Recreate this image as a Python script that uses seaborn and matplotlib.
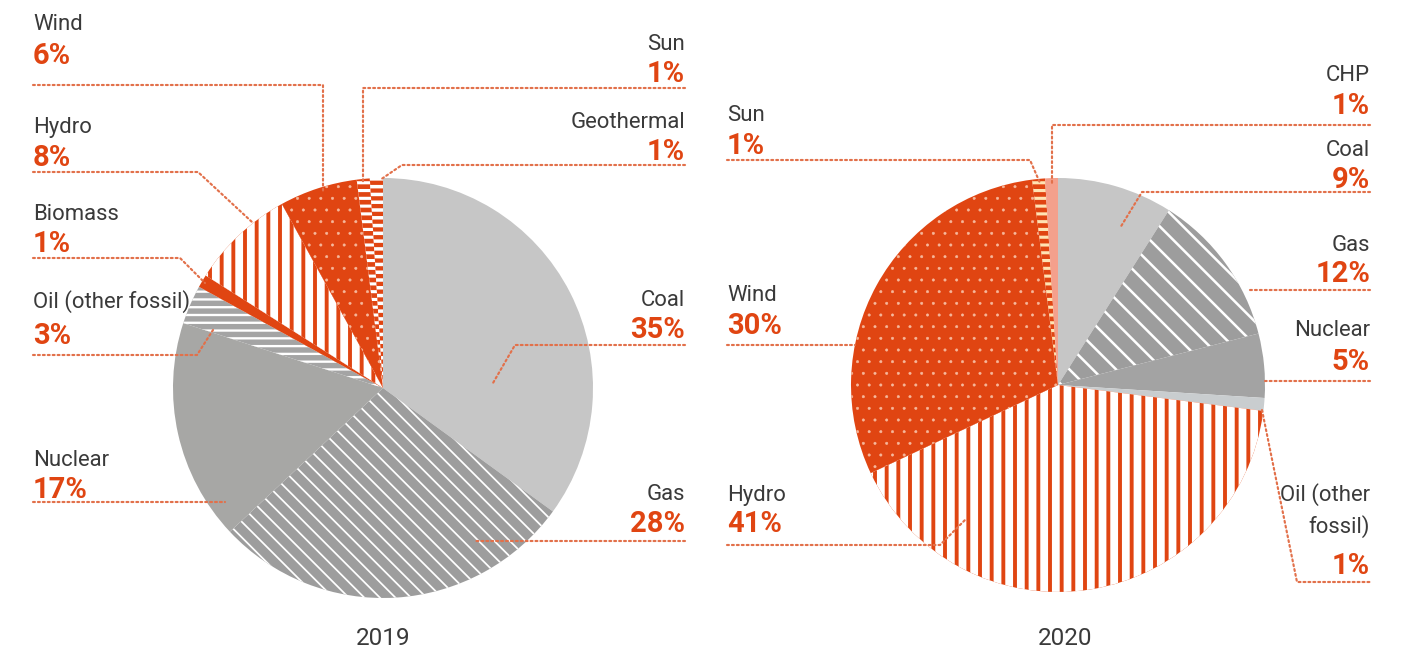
import matplotlib
matplotlib.use("Agg")
import matplotlib.pyplot as plt
import seaborn as sns

# ---------------- data ----------------
cats_2019 = ["Coal", "Gas", "Nuclear", "Oil (other fossil)", "Biomass", "Hydro", "Wind", "Sun", "Geothermal"]
vals_2019 = [35, 28, 17, 3, 1, 8, 6, 1, 1]
cats_2020 = ["Coal", "Gas", "Nuclear", "Oil (other fossil)", "Hydro", "Wind", "Sun", "CHP"]
vals_2020 = [9, 12, 5, 1, 41, 30, 1, 1]
years = ["2019", "2020"]

# ---------------- style ----------------
sns.set_theme(style="white")
plt.rcParams["font.family"] = ["Roboto", "DejaVu Sans"]

ORANGE = "#E04512"
TXT = "#3A3A3A"
DOT = "#E2704A"

# face, hatch, hatch colour, hatch linewidth (pt)
style_2019 = {
    "Coal": ("#C6C6C6", None, None, 0),
    "Gas": ("#9D9D9D", "\\\\\\", "white", 0.9),
    "Nuclear": ("#A7A7A5", None, None, 0),
    "Oil (other fossil)": ("#A4A4A4", "---", "white", 1.2),
    "Biomass": (ORANGE, None, None, 0),
    "Hydro": (ORANGE, "||", "white", 4.0),
    "Wind": (ORANGE, "..", "#F6B89C", 0.3),
    "Sun": (ORANGE, "---", "white", 1.6),
    "Geothermal": ("white", "---", ORANGE, 2.2),
}
style_2020 = {
    "Coal": ("#C6C6C6", None, None, 0),
    "Gas": ("#9D9D9D", "\\\\", "white", 1.3),
    "Nuclear": ("#A3A3A3", None, None, 0),
    "Oil (other fossil)": ("#C9CDCF", None, None, 0),
    "Hydro": (ORANGE, "||", "white", 4.0),
    "Wind": (ORANGE, "..", "#F6B89C", 0.3),
    "Sun": (ORANGE, "---", "#FFE3B3", 1.6),
    "CHP": ("#F4A08C", None, None, 0),
}

W, H, DPI = 1407, 650, 140
fig = plt.figure(figsize=(W / DPI, H / DPI), dpi=DPI)


def pie_axes(cx, cy, r):
    return fig.add_axes([(cx - r) / W, (H - cy - r) / H, 2 * r / W, 2 * r / H])


def draw_pie(ax, cats, vals, styles):
    wedges, _ = ax.pie(vals, startangle=90, counterclock=False, radius=1,
                       wedgeprops=dict(linewidth=0))
    for w, c in zip(wedges, cats):
        face, hatch, hcol, hlw = styles[c]
        w.set_facecolor(face)
        if hatch:
            w.set_edgecolor(hcol)
            w.set_hatch(hatch)
            if hasattr(w, "set_hatch_linewidth"):
                w.set_hatch_linewidth(hlw)
        else:
            w.set_edgecolor(face)
        w.set_linewidth(0)
    ax.set_xlim(-1, 1)
    ax.set_ylim(-1, 1)
    ax.set_aspect("equal")
    ax.axis("off")


ax1 = pie_axes(383, 388, 210)
draw_pie(ax1, cats_2019, vals_2019, style_2019)
ax2 = pie_axes(1058, 385, 207)
draw_pie(ax2, cats_2020, vals_2020, style_2020)

# ---------------- annotation overlay (pixel layout) ----------------
ov = fig.add_axes([0, 0, 1, 1])
ov.set_xlim(0, W)
ov.set_ylim(H, 0)
ov.axis("off")

NAME_FS = 11.4
PCT_FS = 15.0


def label(x, name_c, pct_c, name, val, ha):
    lines = name.split("\n")
    for i, ln in enumerate(lines):
        ov.text(x, name_c[i] + 8, ln, ha=ha, va="baseline", fontsize=NAME_FS, color=TXT)
    ov.text(x, pct_c + 10.5, f"{val}%", ha=ha, va="baseline", fontsize=PCT_FS,
            color=ORANGE, fontweight="bold")


def leader(pts):
    xs, ys = zip(*pts)
    ov.plot(xs, ys, color=DOT, lw=1.1, linestyle=(0, (0.9, 1.4)),
            dash_capstyle="round")


v19 = dict(zip(cats_2019, vals_2019))
v20 = dict(zip(cats_2020, vals_2020))

# 2019 left column
label(33, [22], 54, "Wind", v19["Wind"], "left")
leader([(33, 85), (323, 85), (323, 192)])
label(33, [125], 155, "Hydro", v19["Hydro"], "left")
leader([(33, 172), (198, 172), (252, 222)])
label(33, [212], 241, "Biomass", v19["Biomass"], "left")
leader([(33, 258), (180, 258), (205, 283)])
label(33, [300], 333, "Oil (other fossil)", v19["Oil (other fossil)"], "left")
leader([(33, 355), (197, 355), (213, 330)])
label(33, [458], 488, "Nuclear", v19["Nuclear"], "left")
leader([(33, 502), (225, 502)])
# 2019 right column
label(685, [42], 72, "Sun", v19["Sun"], "right")
leader([(685, 88), (363, 88), (363, 182)])
label(685, [120], 150, "Geothermal", v19["Geothermal"], "right")
leader([(685, 165), (402, 165), (380, 180)])
label(685, [298], 328, "Coal", v19["Coal"], "right")
leader([(685, 345), (515, 345), (493, 383)])
label(685, [492], 522, "Gas", v19["Gas"], "right")
leader([(685, 541), (475, 541)])

# 2020 left column
label(727, [113], 143, "Sun", v20["Sun"], "left")
leader([(727, 160), (1030, 160), (1040, 183)])
label(727, [293], 323, "Wind", v20["Wind"], "left")
leader([(727, 345), (855, 345)])
label(727, [493], 522, "Hydro", v20["Hydro"], "left")
leader([(727, 545), (940, 545), (965, 520)])
# 2020 right column
label(1370, [73], 103, "CHP", v20["CHP"], "right")
leader([(1370, 125), (1052, 125), (1052, 183)])
label(1370, [148], 178, "Coal", v20["Coal"], "right")
leader([(1370, 192), (1142, 192), (1120, 228)])
label(1370, [243], 272, "Gas", v20["Gas"], "right")
leader([(1370, 290), (1250, 290)])
label(1370, [328], 360, "Nuclear", v20["Nuclear"], "right")
leader([(1370, 381), (1265, 381)])
label(1370, [493, 525], 563, "Oil (other\nfossil)", v20["Oil (other fossil)"], "right")
leader([(1262, 410), (1297, 582), (1370, 582)])

# years
ov.text(383, 645, years[0], ha="center", va="baseline", fontsize=12.5, color=TXT)
ov.text(1065, 645, years[1], ha="center", va="baseline", fontsize=12.5, color=TXT)

fig.savefig("out.png", dpi=DPI, facecolor="white")
